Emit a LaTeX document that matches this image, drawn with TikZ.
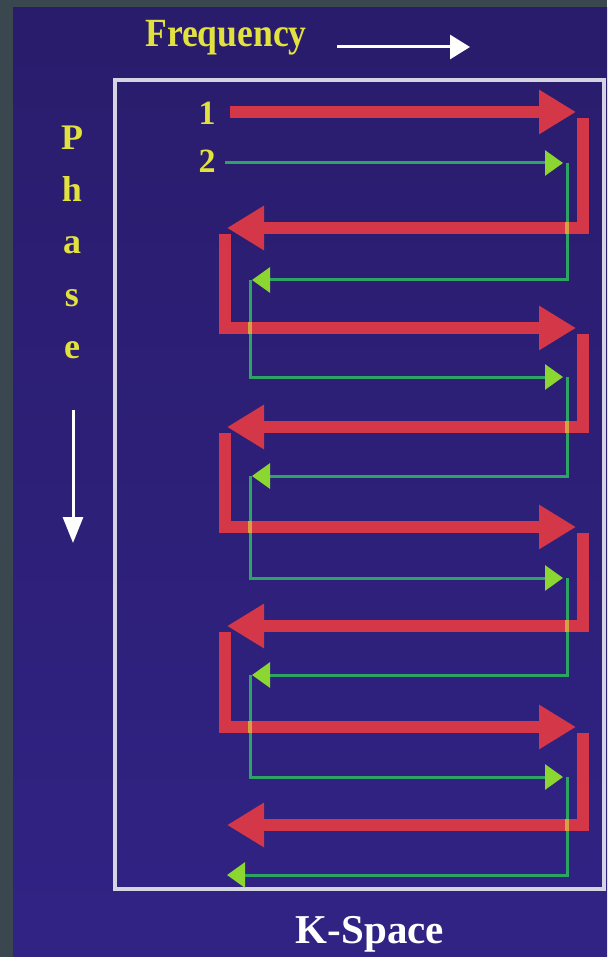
\documentclass[tikz,border=0pt]{standalone}
\usepackage{fontspec}
\setmainfont{Liberation Serif}
\usetikzlibrary{arrows.meta}

\definecolor{slate}{HTML}{3A474E}
\definecolor{paneltop}{HTML}{2A1C6C}
\definecolor{panelbot}{HTML}{302384}
\definecolor{redpath}{HTML}{D43848}
\definecolor{greenline}{HTML}{2CA464}
\definecolor{greenhead}{HTML}{8CD632}
\definecolor{crossmix}{HTML}{D8A042}
\definecolor{labelyellow}{HTML}{E2E23E}
\definecolor{framegray}{HTML}{D4D4E2}

\tikzset{
  redrun/.style={draw=redpath, line width=12pt, line join=miter,
    -{Triangle[length=37pt,width=42pt]}},
  greenrun/.style={draw=greenline, line width=3pt, line join=miter,
    -{Triangle[length=18pt,width=25pt,color=greenhead]}},
  axisarrow/.style={draw=white, line width=3pt,
    -{Triangle[length=20pt,width=24pt]}},
  axislabel/.style={text=labelyellow, font=\bfseries\fontsize{40}{44}\selectfont},
  phaseletter/.style={text=labelyellow, anchor=base, inner sep=0pt,
    font=\bfseries\fontsize{36}{40}\selectfont},
  rowlabel/.style={text=labelyellow, inner sep=0pt,
    font=\bfseries\fontsize{34}{38}\selectfont},
}

\begin{document}
\begin{tikzpicture}[x=1pt,y=-1pt]
  \useasboundingbox (0,0) rectangle (607,957);
  % outer border and panel
  \fill[slate] (0,0) rectangle (607,957);
  \shade[top color=paneltop, bottom color=panelbot] (13,8) rectangle (607,957);

  % k-space frame
  \draw[framegray, line width=3.5pt] (115,80) rectangle (604,889);

  % frequency axis
  \node[axislabel, anchor=base, xscale=0.89] (freq) at (226,47) {Frequency};
  \coordinate (fa) at (337,47);
  \coordinate (fb) at (470,47);
  \draw[axisarrow] (fa) -- (fb);

  % phase axis
  \foreach \ch [count=\k] in {P,h,a,s,e}
    \node[phaseletter] (ph\k) at (72,{150+52*(\k-1)}) {\ch};
  \coordinate (pa) at (73,410);
  \coordinate (pb) at (73,543);
  \draw[axisarrow, -{Triangle[length=26pt,width=20pt]}] (pa) -- (pb);

  % trajectory labels
  \node[rowlabel] (one) at (207,113) {1};
  \node[rowlabel] (two) at (207,161) {2};

  % trajectory 1 (thick red)
  \coordinate (rs1) at (230,112);
  \coordinate (rt1) at (576,112);
  \draw[redrun] (rs1) -- (rt1);
  \foreach \i/\ys/\y/\xs/\xt in {2/118/228/583/227, 3/234/328/225/576,
      4/334/427/583/227, 5/433/527/225/576, 6/533/626/583/227,
      7/632/727/225/576, 8/733/825/583/227} {
    \coordinate (rs\i) at (\xs,\ys);
    \coordinate (rc\i) at (\xs,\y);
    \coordinate (rt\i) at (\xt,\y);
    \draw[redrun] (rs\i) -- (rc\i) -- (rt\i);
  }

  % trajectory 2 (thin green)
  \coordinate (gs1) at (225,163);
  \coordinate (gt1) at (563,163);
  \draw[greenrun] (gs1) -- (gt1);
  \foreach \i/\ys/\y/\xs/\xt in {2/163/280/567/252, 3/280/377/250/563,
      4/377/476/567/252, 5/476/578/250/563, 6/578/675/567/252,
      7/675/777/250/563, 8/777/875/567/227} {
    \coordinate (gs\i) at (\xs,\ys);
    \coordinate (gc\i) at (\xs,\y);
    \coordinate (gt\i) at (\xt,\y);
    \draw[greenrun] (gs\i) -- (gc\i) -- (gt\i);
  }

  % mixed colour where the two trajectories overlap
  \foreach \cx/\cy in {567/228, 567/427, 567/626, 567/825,
      250/328, 250/527, 250/727}
    \fill[crossmix] (\cx-2,\cy-6) rectangle (\cx+2,\cy+6);

  % caption
  \node[text=white, anchor=base, font=\bfseries\fontsize{41}{46}\selectfont]
    (kspace) at (370,943) {K-Space};
\end{tikzpicture}
\end{document}
